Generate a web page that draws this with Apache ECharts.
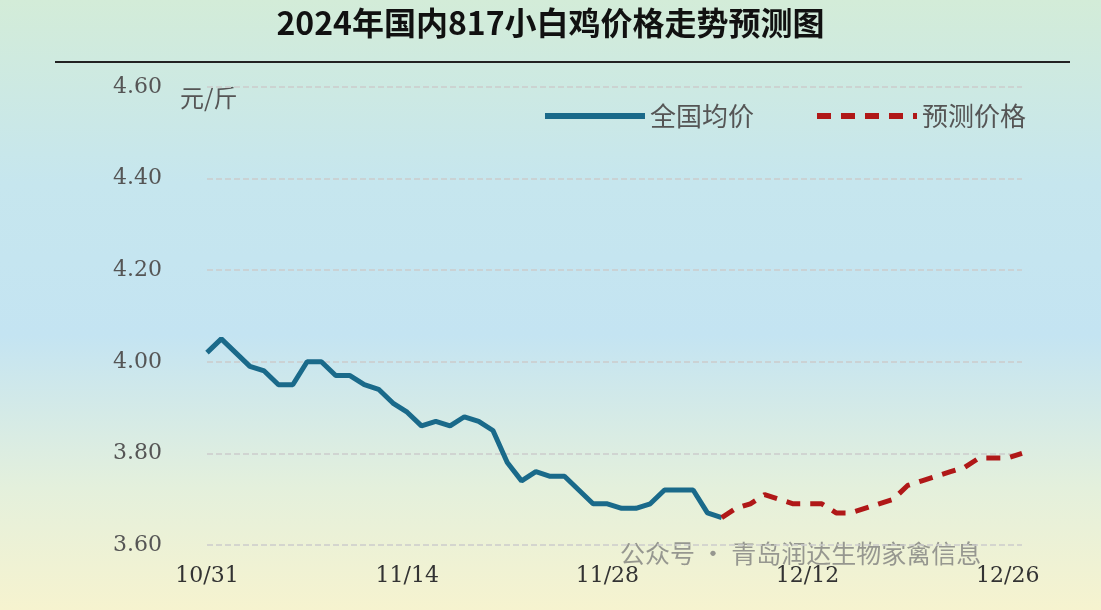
<!DOCTYPE html><html><head><meta charset="utf-8"><script src="https://cdn.jsdelivr.net/npm/echarts@6/dist/echarts.min.js"></script>
<style>html,body{margin:0;padding:0}#c{width:1101px;height:610px;background:linear-gradient(180deg,#d3ecd8 0%,#c6e6ee 30%,#c4e4f2 55%,#e4f0dc 80%,#f6f3cf 100%)}</style></head><body><div id="c"></div>
<script>
const dates=[];(function(){const s=new Date(2024,9,31);for(let i=0;i<58;i++){const d=new Date(s.getTime()+i*86400000);dates.push((d.getMonth()+1)+'/'+String(d.getDate()).padStart(2,'0'));}})();
const actual=[4.02,4.05,4.02,3.99,3.98,3.95,3.95,4.00,4.00,3.97,3.97,3.95,3.94,3.91,3.89,3.86,3.87,3.86,3.88,3.87,3.85,3.78,3.74,3.76,3.75,3.75,3.72,3.69,3.69,3.68,3.68,3.69,3.72,3.72,3.72,3.67,3.66];
const forecastPart=[3.66,3.68,3.69,3.71,3.70,3.69,3.69,3.69,3.67,3.67,3.68,3.69,3.70,3.73,3.74,3.75,3.76,3.77,3.79,3.79,3.79,3.80];
const forecast=new Array(36).fill(null).concat(forecastPart);
const c=echarts.init(document.getElementById('c'));
c.setOption({
title:{text:'2024年国内817小白鸡价格走势预测图',left:'center',top:2,textStyle:{fontFamily:'Noto Sans CJK SC',fontSize:32,fontWeight:'bold',color:'#111'}},
graphic:[{type:'line',shape:{x1:55,y1:62,x2:1070,y2:62},style:{stroke:'#222',lineWidth:2}},
{type:'text',left:180,top:86,style:{text:'元/斤',fontSize:24,fill:'#555',fontFamily:'Noto Sans CJK SC'}},
{type:'text',left:620,top:541,style:{text:'公众号 · 青岛润达生物家禽信息',fontSize:25,fill:'rgba(120,120,120,0.75)',fontFamily:'Noto Sans CJK SC'}}],
legend:{top:98,right:70,itemWidth:100,itemHeight:6,itemGap:60,itemStyle:{opacity:0},lineStyle:{width:6},textStyle:{fontSize:26,color:'#555',fontFamily:'Noto Sans CJK SC'},data:['全国均价','预测价格']},
grid:{left:207,right:79,top:87,bottom:65},
xAxis:{type:'category',data:dates,boundaryGap:false,axisLine:{show:false},axisTick:{show:false},axisLabel:{interval:13,fontSize:22,color:'#333',fontFamily:'DejaVu Serif',margin:20}},
yAxis:{type:'value',min:3.6,max:4.6,interval:0.2,axisLabel:{formatter:v=>v.toFixed(2),fontSize:22,color:'#555',fontFamily:'DejaVu Serif',margin:45},splitLine:{lineStyle:{type:'dashed',color:'#ccc',width:1.5}}},
series:[{name:'全国均价',type:'line',data:actual,symbol:'none',lineStyle:{width:5,color:'#1a6a8a'},itemStyle:{color:'#1a6a8a'}},
{name:'预测价格',type:'line',data:forecast,symbol:'none',lineStyle:{width:5,color:'#b01818',type:[14,10]},itemStyle:{color:'#b01818'}}]
});
</script></body></html>
